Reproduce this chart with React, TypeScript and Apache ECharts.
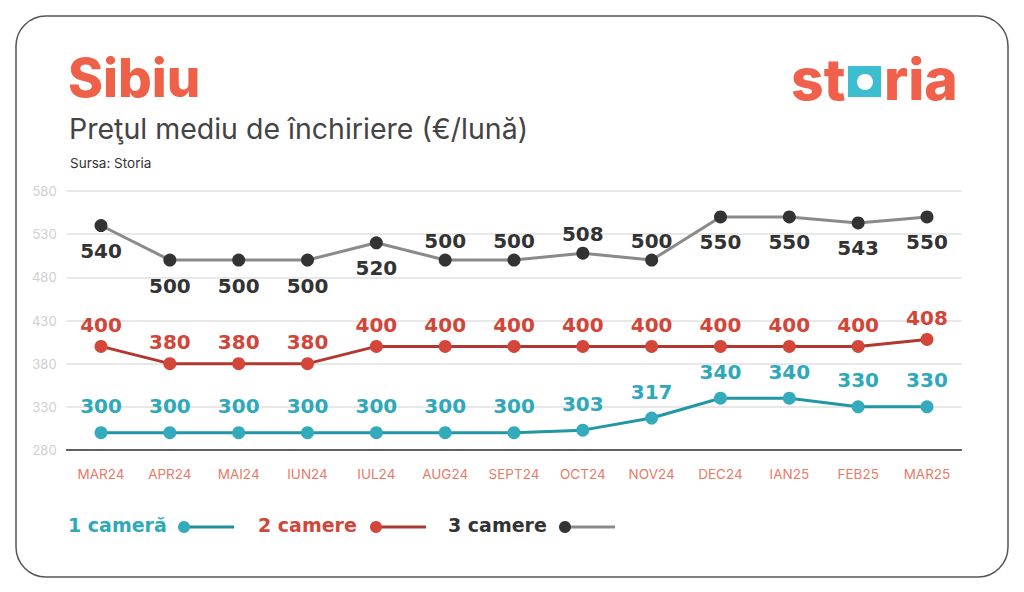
import React, { useEffect, useRef } from "react";
import * as echarts from "echarts";

const categories = ["MAR24", "APR24", "MAI24", "IUN24", "IUL24", "AUG24", "SEPT24", "OCT24", "NOV24", "DEC24", "IAN25", "FEB25", "MAR25"];
const oneRoom = [300, 300, 300, 300, 300, 300, 300, 303, 317, 340, 340, 330, 330];
const twoRooms = [400, 380, 380, 380, 400, 400, 400, 400, 400, 400, 400, 400, 408];
const threeRooms = [540, 500, 500, 500, 520, 500, 500, 508, 500, 550, 550, 543, 550];
const threeLabelPos = ["bottom", "bottom", "bottom", "bottom", "bottom", "top", "top", "top", "top", "bottom", "bottom", "bottom", "bottom"];
const seriesNames = ["1 cameră", "2 camere", "3 camere"];
const yMin = 280;
const yMax = 580;
const yStep = 50;

const LABEL_FONT = "DejaVu Sans";
const TITLE_FONT = "Inter";

export default function App() {
  const ref = useRef<HTMLDivElement>(null);
  useEffect(() => {
    document.body.style.margin = "0";
    const chart = echarts.init(ref.current!, null, { renderer: "svg" });
    const mkLabel = (color: string, position: string, distance: number) => ({
      show: true,
      position,
      distance,
      color,
      fontFamily: LABEL_FONT,
      fontWeight: "bold",
      fontSize: 20,
    });
    const legendItem = (x: number, text: string, textColor: string, dotColor: string, lineColor: string, textW: number) => [
      { type: "text", x, y: 525, style: { text, font: `bold 19px ${LABEL_FONT}`, fill: textColor, textAlign: "left", textVerticalAlign: "middle" } },
      { type: "line", shape: { x1: x + textW + 16, y1: 527, x2: x + textW + 68, y2: 527 }, style: { stroke: lineColor, lineWidth: 3 } },
      { type: "circle", shape: { cx: x + textW + 18, cy: 527, r: 6 }, style: { fill: dotColor } },
    ];
    chart.setOption({
      animation: false,
      backgroundColor: "#ffffff",
      grid: { left: 66.6, right: 62.6, top: 191, bottom: 142 },
      xAxis: {
        type: "category",
        data: categories,
        boundaryGap: true,
        axisLine: { show: true, lineStyle: { color: "#333", width: 1.5 } },
        axisTick: { show: false },
        axisLabel: { color: "#e97a68", fontSize: 13.5, fontFamily: TITLE_FONT, margin: 17 },
      },
      yAxis: {
        type: "value",
        min: yMin,
        max: yMax,
        interval: yStep,
        axisLine: { show: false },
        axisTick: { show: false },
        axisLabel: { color: "#cfcfcf", fontSize: 13, fontFamily: TITLE_FONT, margin: 10 },
        splitLine: { lineStyle: { color: "#e0e0e0", width: 1.5 } },
      },
      series: [
        {
          name: seriesNames[0],
          type: "line",
          data: oneRoom,
          symbol: "circle",
          symbolSize: 13,
          lineStyle: { color: "#2396a4", width: 3 },
          itemStyle: { color: "#33abbd" },
          label: mkLabel("#2fa8b9", "top", 10),
        },
        {
          name: seriesNames[1],
          type: "line",
          data: twoRooms,
          symbol: "circle",
          symbolSize: 13,
          lineStyle: { color: "#b2382f", width: 3 },
          itemStyle: { color: "#d5463a" },
          label: mkLabel("#d2463a", "top", 5),
        },
        {
          name: seriesNames[2],
          type: "line",
          data: threeRooms.map((v, i) => ({ value: v, label: { position: threeLabelPos[i], distance: threeLabelPos[i] === "top" ? 3 : 9 } })),
          symbol: "circle",
          symbolSize: 13,
          lineStyle: { color: "#8a8a8a", width: 3 },
          itemStyle: { color: "#333333" },
          label: mkLabel("#333333", "bottom", 9),
        },
      ],
      graphic: [
        { type: "rect", shape: { x: 16, y: 16, width: 992, height: 561, r: 30 }, style: { fill: "none", stroke: "#555", lineWidth: 1.5 }, z: -1 },
        { type: "text", x: 68, y: 78, style: { text: "Sibiu", font: `800 53px ${TITLE_FONT}`, fill: "#ef6049", textAlign: "left", textVerticalAlign: "middle" } },
        { type: "text", x: 69, y: 128, style: { text: "Preţul mediu de închiriere (€/lună)", font: `28.5px ${TITLE_FONT}`, fill: "#444", textAlign: "left", textVerticalAlign: "middle" } },
        { type: "text", x: 70, y: 163, style: { text: "Sursa: Storia", font: `13.5px ${TITLE_FONT}`, fill: "#333", textAlign: "left", textVerticalAlign: "middle" } },
        // logo
        { type: "text", x: 791, y: 79, style: { text: "st", font: `800 57px ${TITLE_FONT}`, fill: "#f0604a", textAlign: "left", textVerticalAlign: "middle" } },
        { type: "rect", shape: { x: 848, y: 66, width: 33, height: 31 }, style: { fill: "#3cbdd0" } },
        { type: "circle", shape: { cx: 865, cy: 82, r: 8 }, style: { fill: "#ffffff" } },
        { type: "text", x: 884, y: 79, style: { text: "ria", font: `800 57px ${TITLE_FONT}`, fill: "#f0604a", textAlign: "left", textVerticalAlign: "middle" } },
        ...legendItem(68, seriesNames[0], "#2fa8b9", "#33abbd", "#1f8f9c", 98),
        ...legendItem(258, seriesNames[1], "#d2463a", "#d5463a", "#a83a30", 100),
        ...legendItem(448, seriesNames[2], "#333333", "#333333", "#8a8a8a", 99),
      ],
    });
    return () => chart.dispose();
  }, []);
  return <div ref={ref} style={{ position: "fixed", left: 0, top: 0, width: 1024, height: 592 }} />;
}
